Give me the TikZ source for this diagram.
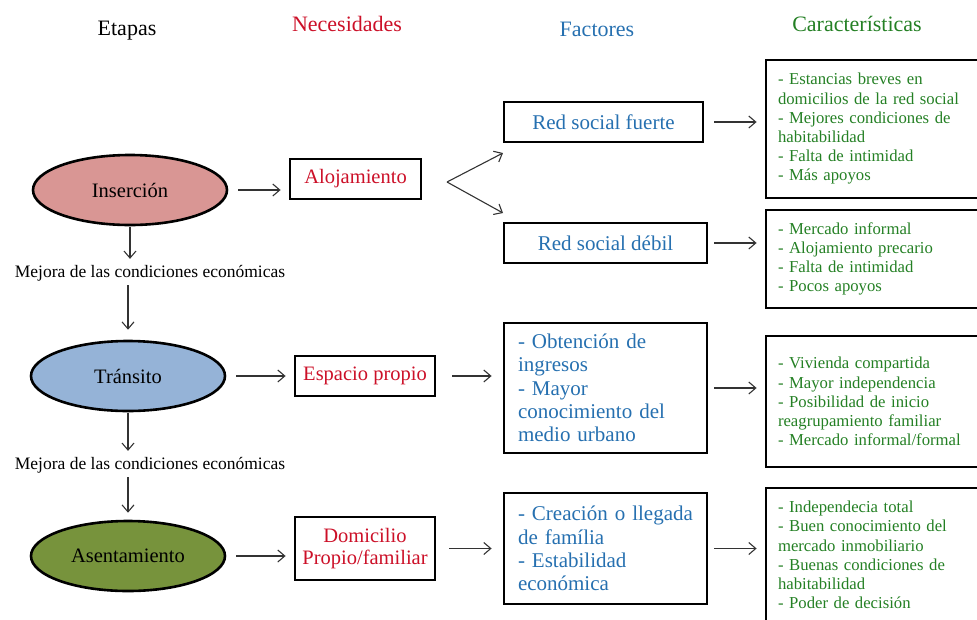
\documentclass[tikz,border=0pt]{standalone}
\usepackage{fontspec}
\setmainfont{Liberation Serif}
\usetikzlibrary{arrows.meta,shapes.geometric}

\definecolor{rojonec}{RGB}{204,16,40}
\definecolor{azulfac}{RGB}{38,112,176}
\definecolor{verdecar}{RGB}{36,128,36}
\definecolor{rosaetapa}{RGB}{217,150,148}
\definecolor{azuletapa}{RGB}{149,179,215}
\definecolor{verdeetapa}{RGB}{119,147,60}

\tikzset{
    titulo/.style={font=\fontsize{22}{24}\selectfont},
    etapa/.style={ellipse, draw, line width=2.6pt, minimum width=194pt, minimum height=70pt, inner sep=0pt, font=\fontsize{20.5}{23}\selectfont},
    mejora/.style={inner sep=2pt, font=\fontsize{17.5}{19}\selectfont},
    caja/.style={draw, line width=2.8pt, inner sep=0pt},
    necesidad/.style={caja, text=rojonec, align=center, minimum width=140pt, font=\fontsize{20.5}{22}\selectfont},
    factor/.style={caja, text=azulfac, minimum width=203pt, font=\fontsize{21}{23.3}\selectfont},
    caracteristica/.style={caja, text=verdecar, align=left, minimum width=234pt, text width=210pt, font=\fontsize{16.7}{19.2}\selectfont},
    flecha/.style={draw=black!80, line width=1.1pt, -{Straight Barb[length=7pt,width=12pt]}, shorten <=10pt, shorten >=8pt}
}

\begin{document}
\begin{tikzpicture}[x=1pt,y=-1pt]
    \useasboundingbox (0,0) rectangle (977,619);
    \clip (0,0) rectangle (977,619);

    \node[titulo] (etapas) at (127,31) {Etapas};
    \node[titulo, text=rojonec] (necesidades) at (347,24) {Necesidades};
    \node[titulo, text=azulfac] (factores) at (597,29) {Factores};
    \node[titulo, text=verdecar] (caracteristicas) at (857,24) {Características};

    \node[etapa, fill=rosaetapa] (insercion) at (130,190) {Inserción};
    \node[etapa, fill=azuletapa] (transito) at (128,376) {Tránsito};
    \node[etapa, fill=verdeetapa] (asentamiento) at (128,556) {Asentamiento};
    \node[mejora] (mejora1) at (150,273) {Mejora de las condiciones económicas};
    \node[mejora] (mejora2) at (150,465) {Mejora de las condiciones económicas};

    \node[necesidad, minimum width=131pt, minimum height=40pt] (alojamiento) at (355.5,179) {Alojamiento};
    \node[necesidad, minimum height=40pt] (espacio) at (365,376) {Espacio propio};
    \node[necesidad, minimum height=63pt] (domicilio) at (365,548.5) {Domicilio\\Propio/familiar};

    \node[factor, minimum width=199pt, minimum height=40pt] (fuerte) at (603.5,122) {Red social fuerte};
    \node[factor, minimum height=40pt] (debil) at (605.5,243) {Red social débil};
    \node[factor, minimum height=130pt, text width=175pt, align=left] (ingresos) at (605.5,388) {- Obtención de\\ingresos\\- Mayor\\conocimiento del\\medio urbano};
    \node[factor, minimum height=111pt, text width=175pt, align=left] (familia) at (605.5,548.5) {- Creación o llegada\\de família\\- Estabilidad\\económica};

    \node[caracteristica, minimum height=138pt] (car1) at (883,129) {- Estancias breves en\\domicilios de la red social\\- Mejores condiciones de\\habitabilidad\\- Falta de intimidad\\- Más apoyos};
    \node[caracteristica, minimum height=98pt] (car2) at (883,259) {- Mercado informal\\- Alojamiento precario\\- Falta de intimidad\\- Pocos apoyos};
    \node[caracteristica, minimum height=131pt] (car3) at (883,401.5) {- Vivienda compartida\\- Mayor independencia\\- Posibilidad de inicio\\reagrupamiento familiar\\- Mercado informal/formal};
    \node[caracteristica, minimum height=134pt] (car4) at (883,555) {- Independecia total\\- Buen conocimiento del\\mercado inmobiliario\\- Buenas condiciones de\\habitabilidad\\- Poder de decisión};

    \coordinate (bifurca) at (447,182);
    \coordinate (puntafuerte) at (503,153);
    \coordinate (puntadebil) at (503,213);

    \draw[flecha, shorten <=1pt, shorten >=4pt] (insercion) -- (insercion |- mejora1.north);
    \draw[flecha, shorten <=2pt, shorten >=10pt] (transito |- mejora1.south) -- (transito);
    \draw[flecha, shorten <=1pt, shorten >=4pt] (transito) -- (transito |- mejora2.north);
    \draw[flecha, shorten <=2pt, shorten >=7pt] (asentamiento |- mejora2.south) -- (asentamiento);

    \draw[flecha] (insercion) -- (insercion -| alojamiento.west);
    \draw[flecha] (transito) -- (transito -| espacio.west);
    \draw[flecha] (asentamiento) -- (asentamiento -| domicilio.west);

    \draw[flecha, shorten <=0pt, shorten >=0pt] (bifurca) -- (puntafuerte);
    \draw[flecha, shorten <=0pt, shorten >=0pt] (bifurca) -- (puntadebil);
    \draw[flecha, shorten <=16pt, shorten >=11pt] (espacio) -- (espacio -| ingresos.west);
    \draw[flecha, shorten <=13pt, shorten >=11pt] (domicilio) -- (domicilio -| familia.west);

    \draw[flecha] (fuerte) -- (fuerte -| car1.west);
    \draw[flecha, shorten <=6pt] (debil) -- (debil -| car2.west);
    \draw[flecha, shorten <=6pt] (ingresos) -- (ingresos -| car3.west);
    \draw[flecha, shorten <=6pt] (familia) -- (familia -| car4.west);
\end{tikzpicture}
\end{document}
